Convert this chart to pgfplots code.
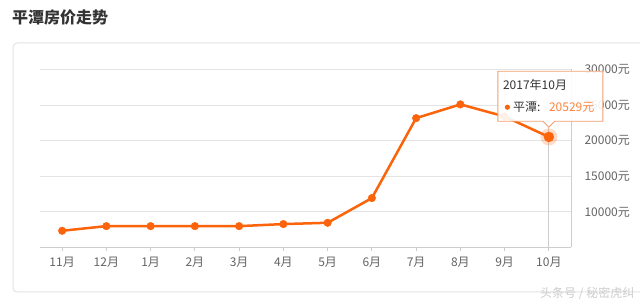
\documentclass[border=0pt]{standalone}
\usepackage{fontspec}
\setmainfont{Noto Sans CJK SC}
\usepackage{pgfplots}
\pgfplotsset{compat=1.18}
\definecolor{lineor}{RGB}{252,100,12}
\definecolor{tipor}{RGB}{240,160,110}
\definecolor{gridc}{RGB}{228,228,228}
\definecolor{axc}{RGB}{205,205,205}
\definecolor{lab}{RGB}{100,100,100}
\definecolor{dark}{RGB}{51,51,51}
\begin{document}
\begin{tikzpicture}[x=1pt,y=1pt]
\useasboundingbox (0,0) rectangle (640,304);
\fill[white] (0,0) rectangle (640,304);
\begin{scope}
\clip (0,0) rectangle (640,304);
\draw[draw=gridc, line width=1pt, rounded corners=4pt] (13,12) rectangle (660,261);
\end{scope}
\node[anchor=west, text=dark, inner sep=0pt] at (12,286) {\fontsize{16}{18}\selectfont\bfseries 平潭房价走势};
\begin{axis}[
  at={(40pt,56.5pt)}, anchor=south west,
  scale only axis, width=531pt, height=178pt,
  xmin=-0.5, xmax=11.5, ymin=5000, ymax=30000,
  axis x line*=bottom, axis y line*=right,
  axis line style={draw=axc, line width=0.8pt, -},
  xtick={0,...,11},
  xticklabels={11月,12月,1月,2月,3月,4月,5月,6月,7月,8月,9月,10月},
  ytick={10000,15000,20000,25000,30000},
  yticklabels={10000元,15000元,20000元,25000元,30000元},
  scaled y ticks=false,
  ymajorgrids, grid style={draw=gridc, line width=0.8pt},
  x tick style={draw=axc, line width=0.8pt},
  y tick style={draw=none},
  tick align=outside,
  major tick length=4pt,
  xticklabel style={font=\fontsize{12}{14}\selectfont, text=lab, yshift=-2pt},
  yticklabel style={font=\fontsize{12}{14}\selectfont, text=lab, anchor=west, xshift=6pt},
  clip=false,
]
\draw[draw=axc, line width=0.8pt] (axis cs:11,5000) -- ([yshift=9.7pt]axis cs:11,20529);
\addplot[color=lineor, line width=2.5pt, mark=*, mark size=3.8pt, mark options={solid, fill=lineor, draw=lineor, line width=0.4pt}]
coordinates {(0,7350) (1,8000) (2,8000) (3,8000) (4,8000) (5,8290) (6,8470) (7,11940) (8,23170) (9,25100) (10,23400) (11,20529)};
\addplot[color=lineor, only marks, mark=*, mark size=8.5pt, mark options={solid, fill=lineor, fill opacity=0.22, draw opacity=0, line width=0.1pt}] coordinates {(11,20529)};
\addplot[color=lineor, only marks, mark=*, mark size=5pt, mark options={solid, fill=lineor, draw=lineor, line width=0.4pt}] coordinates {(11,20529)};
\coordinate (P) at (axis cs:11,20529);
\end{axis}
\draw[draw=tipor, line width=0.9pt, fill=white, fill opacity=0.9]
  ([shift={(-51,15.7)}]P) -- ([shift={(-6,15.7)}]P) -- ([shift={(0,9.7)}]P) -- ([shift={(6,15.7)}]P) -- ([shift={(54,15.7)}]P)
  -- ([shift={(54,65.7)}]P) -- ([shift={(-51,65.7)}]P) -- cycle;
\node[anchor=west, inner sep=0pt, text=dark] at ([shift={(-46,51.7)}]P) {\fontsize{12}{14}\selectfont 2017年10月};
\fill[lineor] ([shift={(-41.5,29.7)}]P) circle (2.6pt);
\node[anchor=west, inner sep=0pt, text=dark] at ([shift={(-36,29.7)}]P) {\fontsize{12}{14}\selectfont 平潭:};
\node[anchor=west, inner sep=0pt, text=lineor!80!white] at ([shift={(0,29.7)}]P) {\fontsize{12}{14}\selectfont 20529元};
\node[anchor=west, inner sep=0pt, text=white!60!gray] at (540,11) {\fontsize{12}{14}\selectfont 头条号 / 秘密虎纠};
\end{tikzpicture}
\end{document}
